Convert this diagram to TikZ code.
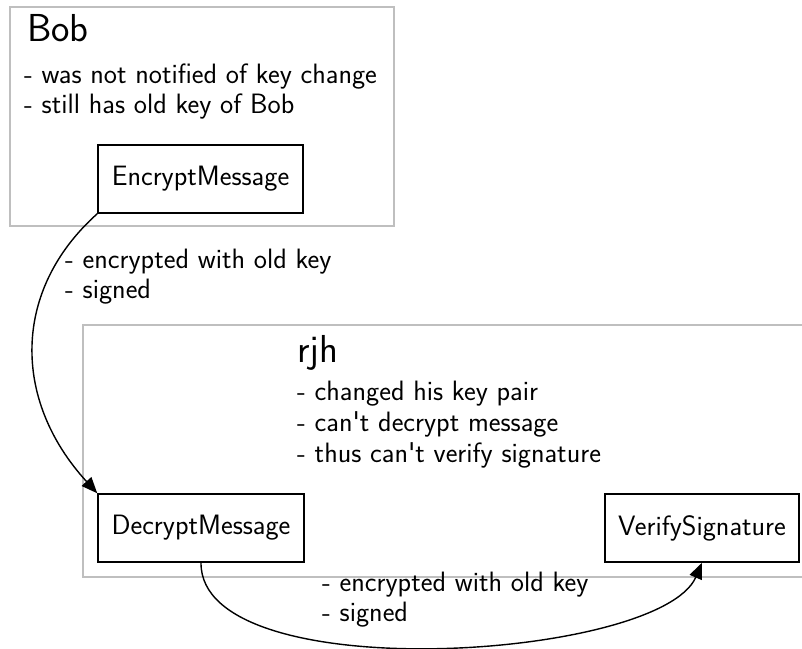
\documentclass[tikz,border=0pt]{standalone}
\usetikzlibrary{arrows.meta}
\begin{document}
\begin{tikzpicture}[x=1pt,y=-1pt,
  every node/.style={font=\sffamily\fontsize{28}{30}\selectfont, inner sep=0pt},
  cluster/.style={draw=black!25, line width=1.5pt},
  proc/.style={draw=black, line width=1.5pt, minimum height=68pt, inner sep=0pt},
  title/.style={font=\sffamily\fontsize{39}{44}\selectfont, anchor=base west},
  notes/.style={align=left, anchor=north west},
  flow/.style={line width=1.4pt, -{Triangle[length=16pt,width=13pt]}}]
\useasboundingbox (0,0) rectangle (802,648);

% Bob's side
\draw[cluster] (10,7) rectangle (394,226);
\node[title] (bobtitle) at (27,41) {Bob};
\node[notes, font=\sffamily\fontsize{28}{29.5}\selectfont] (bobnotes) at (24,64) {- was not notified of key change\\- still has old key of Bob};
\node[proc, minimum width=205pt] (enc) at (200.5,179) {EncryptMessage};

% rjh's side
\draw[cluster] (83,325) rectangle (803,577);
\node[title] (rjhtitle) at (297,362) {rjh};
\node[notes, font=\sffamily\fontsize{28}{31}\selectfont] (rjhnotes) at (297,381) {- changed his key pair\\- can\textquotesingle t decrypt message\\- thus can\textquotesingle t verify signature};
\node[proc, minimum width=206pt] (dec) at (201,528) {DecryptMessage};
\node[proc, minimum width=194pt] (ver) at (702,528) {VerifySignature};

% message flow
\draw[flow] (enc.south west) .. controls (12,290) and (12,400) .. (dec.north west);
\node[notes] (lbl1) at (65,249) {- encrypted with old key\\- signed};
\draw[flow] (dec.south) .. controls (200,690) and (660,660) .. (ver.south);
\node[notes] (lbl2) at (322,572) {- encrypted with old key\\- signed};
\end{tikzpicture}
\end{document}
